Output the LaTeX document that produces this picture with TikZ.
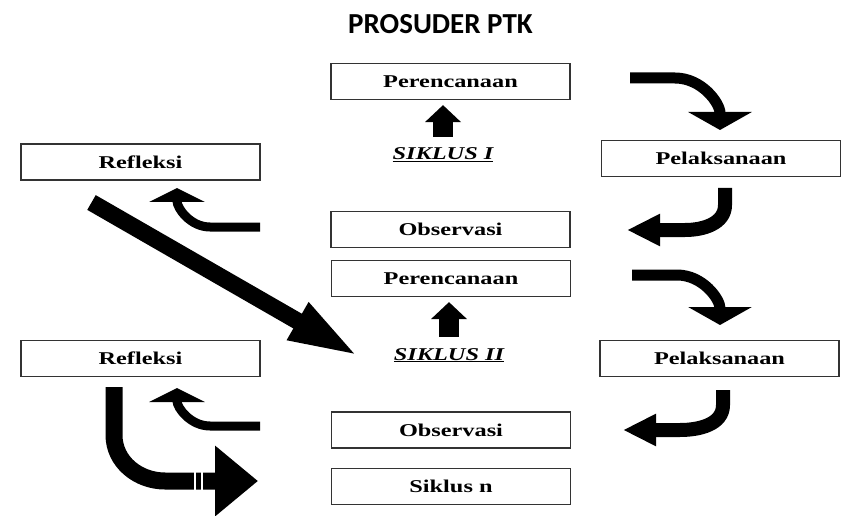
\documentclass[tikz,border=0pt]{standalone}
\usepackage{fontspec}
\usetikzlibrary{arrows.meta}
\newfontfamily\boxfont{Liberation Serif}[FakeStretch=1.35]
\newfontfamily\titlefont{Carlito}

\begin{document}
\begin{tikzpicture}[
    x=1pt, y=1pt,
    stage/.style={draw=black!80, line width=1.2pt, minimum width=239pt,
      minimum height=36pt, inner sep=0pt,
      font=\boxfont\bfseries\fontsize{18}{18}\selectfont},
    siklus/.style={inner sep=2pt, anchor=base,
      font=\boxfont\bfseries\itshape\fontsize{18}{18}\selectfont},
    uparrow/.style={line width=20pt, -{Triangle[width=35pt,length=17pt]}}]

      \useasboundingbox (0,0) rectangle (846,515);

      \node[anchor=base, font=\titlefont\bfseries\fontsize{29}{29}\selectfont]
        (title) at (440.5,481) {PROSUDER PTK};

      % siklus I
      \node[stage] (per1) at (450.5,433.5) {Perencanaan};
      \node[stage] (pel1) at (721,356.5) {Pelaksanaan};
      \node[stage] (obs1) at (450.5,285.5) {Observasi};
      \node[stage] (ref1) at (140.5,353) {Refleksi};
      \node[siklus] (sik1) at (443,355) {\underline{SIKLUS I}};

      % siklus II
      \node[stage] (per2) at (451,236.5) {Perencanaan};
      \node[stage] (pel2) at (719.5,156.5) {Pelaksanaan};
      \node[stage] (obs2) at (451,85) {Observasi};
      \node[stage] (ref2) at (140.5,156.5) {Refleksi};
      \node[siklus] (sik2) at (449,155) {\underline{SIKLUS II}};

      \node[stage] (sikn) at (451,28.5) {Siklus n};

      % free ends of the bent arrows
      \coordinate (a1) at (630,437);
      \coordinate (b1) at (720,385);
      \coordinate (a2) at (725,327);
      \coordinate (b2) at (627,285);
      \coordinate (a3) at (260,288);
      \coordinate (b3) at (177,327);
      \coordinate (a4) at (632,240);
      \coordinate (b4) at (720,190);
      \coordinate (a5) at (723,125);
      \coordinate (b5) at (623,85);
      \coordinate (a6) at (260,89);
      \coordinate (b6) at (177,127);
      \coordinate (d1) at (91.5,312.5);
      \coordinate (d2) at (360,158);
      \coordinate (n1) at (114,128);
      \coordinate (n2) at (258,34);

      \draw[uparrow] ([yshift=9pt]sik1.north) -- ([yshift=-5pt]sik1.north |- per1.south);
      \draw[uparrow] ([yshift=9pt]sik2.north) -- ([yshift=-5pt]sik2.north |- per2.south);

      \draw[line width=11pt, -{Triangle[width=63pt,length=18pt]}]
        (a1) -- ++(45,0) to[out=0,in=90] (b1);
      \draw[line width=14pt, -{Triangle[width=30pt,length=33pt]}]
        (a2) -- ++(0,-17) to[out=-90,in=0] (685,285) -- (b2);
      \draw[line width=9pt, -{Triangle[width=55pt,length=14pt]}]
        (a3) -- ++(-50,0) to[out=180,in=-90] (b3);

      \draw[line width=11pt, -{Triangle[width=63pt,length=18pt]}]
        (a4) -- ++(45,0) to[out=0,in=90] (b4);
      \draw[line width=14pt, -{Triangle[width=30pt,length=33pt]}]
        (a5) -- ++(0,-15) to[out=-90,in=0] (680,85) -- (b5);
      \draw[line width=9pt, -{Triangle[width=55pt,length=14pt]}]
        (a6) -- ++(-50,0) to[out=180,in=-90] (b6);

      \draw[line width=17pt, -{Triangle[width=38pt,length=72pt]}] (d1) -- (d2);

      \draw[line width=17pt, -{Triangle[width=68pt,length=43pt]}]
        (n1) -- ++(0,-48) to[out=-90,in=180] (165,34) -- (n2);
      \foreach \x in {195,202}
        \draw[white, line width=1.2pt] (\x,24) -- (\x,44);

    \end{tikzpicture}
\end{document}
